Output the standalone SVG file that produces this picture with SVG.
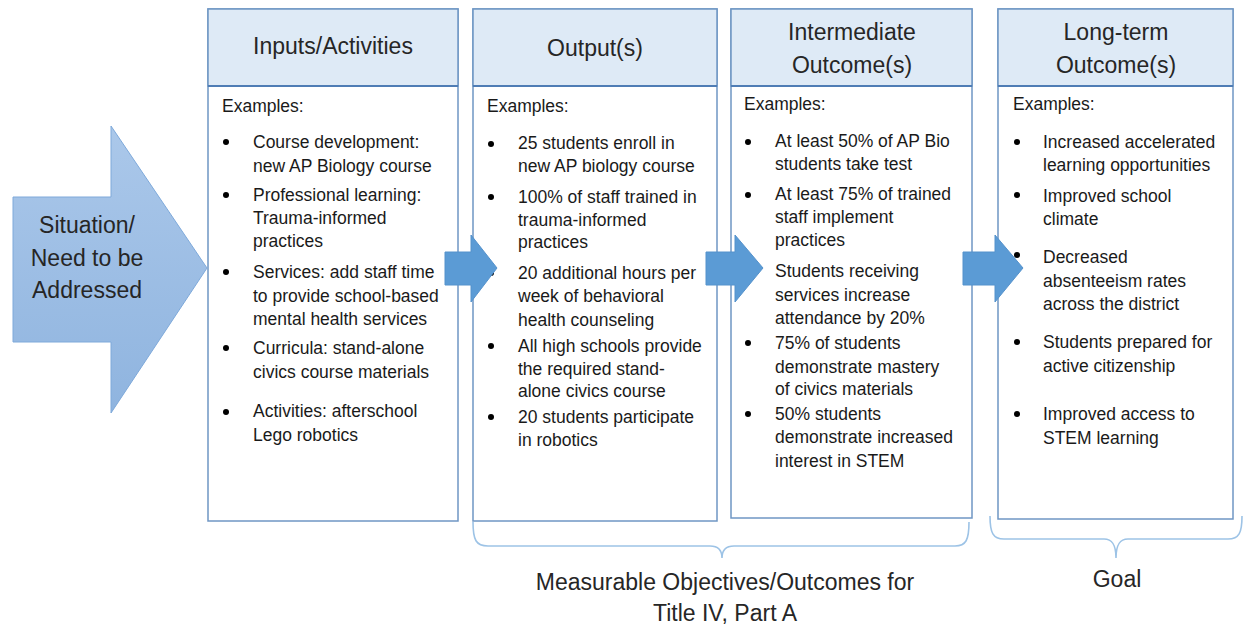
<svg xmlns="http://www.w3.org/2000/svg" width="1243" height="628" viewBox="0 0 1243 628">
<defs>
<linearGradient id="bigGrad" x1="0" y1="0" x2="0" y2="1">
<stop offset="0" stop-color="#abc8ea"/>
<stop offset="1" stop-color="#8fb4df"/>
</linearGradient>
<style>
.box{fill:#ffffff;stroke:#6f96c4;stroke-width:1.5}
.hdr{fill:#deeaf6;stroke:#6f96c4;stroke-width:1.5}
.hline{stroke:#4f7db5;stroke-width:2}
.ht{font-family:"Liberation Sans",Arial,sans-serif;font-size:23px;fill:#262626;text-anchor:middle}
.bt{font-family:"Liberation Sans",Arial,sans-serif;font-size:17.5px;fill:#1a1a1a}
.bul{fill:#000}
.blk{fill:#5b9bd5;stroke:#5592cc;stroke-width:1}
.brace{fill:none;stroke:#9dc3e6;stroke-width:1.6}
.lbl{font-family:"Liberation Sans",Arial,sans-serif;font-size:23px;fill:#262626;text-anchor:middle}
</style>
</defs>
<rect width="1243" height="628" fill="#ffffff"/>

<g id="situation">
<polygon points="13,197 111,197 111,126 207,268 111,413 111,342 13,342" fill="url(#bigGrad)" stroke="#7ea9da" stroke-width="1"/>
<text class="ht" x="87" y="233">Situation/</text>
<text class="ht" x="87" y="266">Need to be</text>
<text class="ht" x="87" y="298">Addressed</text>
</g>

<g id="inputs">
<rect class="box" x="208" y="9" width="250" height="512"/>
<rect class="hdr" x="208" y="9" width="250" height="77"/>
<line class="hline" x1="208" y1="86" x2="458" y2="86"/>
<text class="ht" x="333" y="54">Inputs/Activities</text>
<text class="bt" x="222" y="112">Examples:</text>
<circle class="bul" cx="226" cy="142" r="3"/>
<text class="bt" x="253" y="148">Course development:</text>
<text class="bt" x="253" y="172">new AP Biology course</text>
<circle class="bul" cx="226" cy="195" r="3"/>
<text class="bt" x="253" y="201">Professional learning:</text>
<text class="bt" x="253" y="224">Trauma-informed</text>
<text class="bt" x="253" y="247">practices</text>
<circle class="bul" cx="226" cy="272" r="3"/>
<text class="bt" x="253" y="278">Services: add staff time</text>
<text class="bt" x="253" y="302">to provide school-based</text>
<text class="bt" x="253" y="325">mental health services</text>
<circle class="bul" cx="226" cy="348" r="3"/>
<text class="bt" x="253" y="354">Curricula: stand-alone</text>
<text class="bt" x="253" y="378">civics course materials</text>
<circle class="bul" cx="226" cy="412" r="3"/>
<text class="bt" x="253" y="417">Activities: afterschool</text>
<text class="bt" x="253" y="441">Lego robotics</text>
</g>

<g id="outputs">
<rect class="box" x="473" y="9" width="244" height="512"/>
<rect class="hdr" x="473" y="9" width="244" height="77"/>
<line class="hline" x1="473" y1="86" x2="717" y2="86"/>
<text class="ht" x="595" y="56">Output(s)</text>
<text class="bt" x="487" y="112">Examples:</text>
<circle class="bul" cx="491" cy="144" r="3"/>
<text class="bt" x="518" y="149">25 students enroll in</text>
<text class="bt" x="518" y="172">new AP biology course</text>
<circle class="bul" cx="491" cy="197" r="3"/>
<text class="bt" x="518" y="203">100% of staff trained in</text>
<text class="bt" x="518" y="226">trauma-informed</text>
<text class="bt" x="518" y="248">practices</text>
<circle class="bul" cx="491" cy="273" r="3"/>
<text class="bt" x="518" y="279">20 additional hours per</text>
<text class="bt" x="518" y="302">week of behavioral</text>
<text class="bt" x="518" y="326">health counseling</text>
<circle class="bul" cx="491" cy="346" r="3"/>
<text class="bt" x="518" y="352">All high schools provide</text>
<text class="bt" x="518" y="375">the required stand-</text>
<text class="bt" x="518" y="397">alone civics course</text>
<circle class="bul" cx="491" cy="417" r="3"/>
<text class="bt" x="518" y="423">20 students participate</text>
<text class="bt" x="518" y="446">in robotics</text>
</g>

<g id="intermediate">
<rect class="box" x="731" y="9" width="241" height="509"/>
<rect class="hdr" x="731" y="9" width="241" height="77"/>
<line class="hline" x1="731" y1="86" x2="972" y2="86"/>
<text class="ht" x="852" y="40">Intermediate</text>
<text class="ht" x="852" y="73">Outcome(s)</text>
<text class="bt" x="744" y="110">Examples:</text>
<circle class="bul" cx="748" cy="142" r="3"/>
<text class="bt" x="775" y="147">At least 50% of AP Bio</text>
<text class="bt" x="775" y="170">students take test</text>
<circle class="bul" cx="748" cy="195" r="3"/>
<text class="bt" x="775" y="200">At least 75% of trained</text>
<text class="bt" x="775" y="223">staff implement</text>
<text class="bt" x="775" y="246">practices</text>
<circle class="bul" cx="748" cy="271" r="3"/>
<text class="bt" x="775" y="277">Students receiving</text>
<text class="bt" x="775" y="301">services increase</text>
<text class="bt" x="775" y="324">attendance by 20%</text>
<circle class="bul" cx="748" cy="343" r="3"/>
<text class="bt" x="775" y="349">75% of students</text>
<text class="bt" x="775" y="373">demonstrate mastery</text>
<text class="bt" x="775" y="395">of civics materials</text>
<circle class="bul" cx="748" cy="414" r="3"/>
<text class="bt" x="775" y="420">50% students</text>
<text class="bt" x="775" y="443">demonstrate increased</text>
<text class="bt" x="775" y="467">interest in STEM</text>
</g>

<g id="longterm">
<rect class="box" x="998" y="9" width="235" height="510"/>
<rect class="hdr" x="998" y="9" width="235" height="77"/>
<line class="hline" x1="998" y1="86" x2="1233" y2="86"/>
<text class="ht" x="1116" y="40">Long-term</text>
<text class="ht" x="1116" y="73">Outcome(s)</text>
<text class="bt" x="1013" y="110">Examples:</text>
<circle class="bul" cx="1017" cy="142" r="3"/>
<text class="bt" x="1043" y="148">Increased accelerated</text>
<text class="bt" x="1043" y="171">learning opportunities</text>
<circle class="bul" cx="1017" cy="195" r="3"/>
<text class="bt" x="1043" y="202">Improved school</text>
<text class="bt" x="1043" y="225">climate</text>
<circle class="bul" cx="1017" cy="255" r="3"/>
<text class="bt" x="1043" y="263">Decreased</text>
<text class="bt" x="1043" y="287">absenteeism rates</text>
<text class="bt" x="1043" y="310">across the district</text>
<circle class="bul" cx="1017" cy="342" r="3"/>
<text class="bt" x="1043" y="348">Students prepared for</text>
<text class="bt" x="1043" y="372">active citizenship</text>
<circle class="bul" cx="1017" cy="414" r="3"/>
<text class="bt" x="1043" y="420">Improved access to</text>
<text class="bt" x="1043" y="444">STEM learning</text>
</g>

<g id="connectors">
<polygon class="blk" points="445,252 471,252 471,235 497,268 471,302 471,285 445,285"/>
<polygon class="blk" points="706,252 735,252 735,235 763,268 735,302 735,285 706,285"/>
<polygon class="blk" points="963,252 995,252 995,235 1023,268 995,302 995,285 963,285"/>
</g>

<g id="objectives">
<path class="brace" d="M473,522 C473,540 476,546 488,546 L710,546 C718,546 722,550 722,558 C722,550 726,546 734,546 L955,546 C966,546 969,540 969,522"/>
<text class="lbl" x="725" y="590">Measurable Objectives/Outcomes for</text>
<text class="lbl" x="725" y="621">Title IV, Part A</text>
</g>

<g id="goal">
<path class="brace" d="M990,516 C990,533 993,539 1004,539 L1104,539 C1112,539 1116,544 1116,558 C1116,544 1120,539 1128,539 L1228,539 C1239,539 1242,533 1242,516"/>
<text class="lbl" x="1117" y="587">Goal</text>
</g>
</svg>
